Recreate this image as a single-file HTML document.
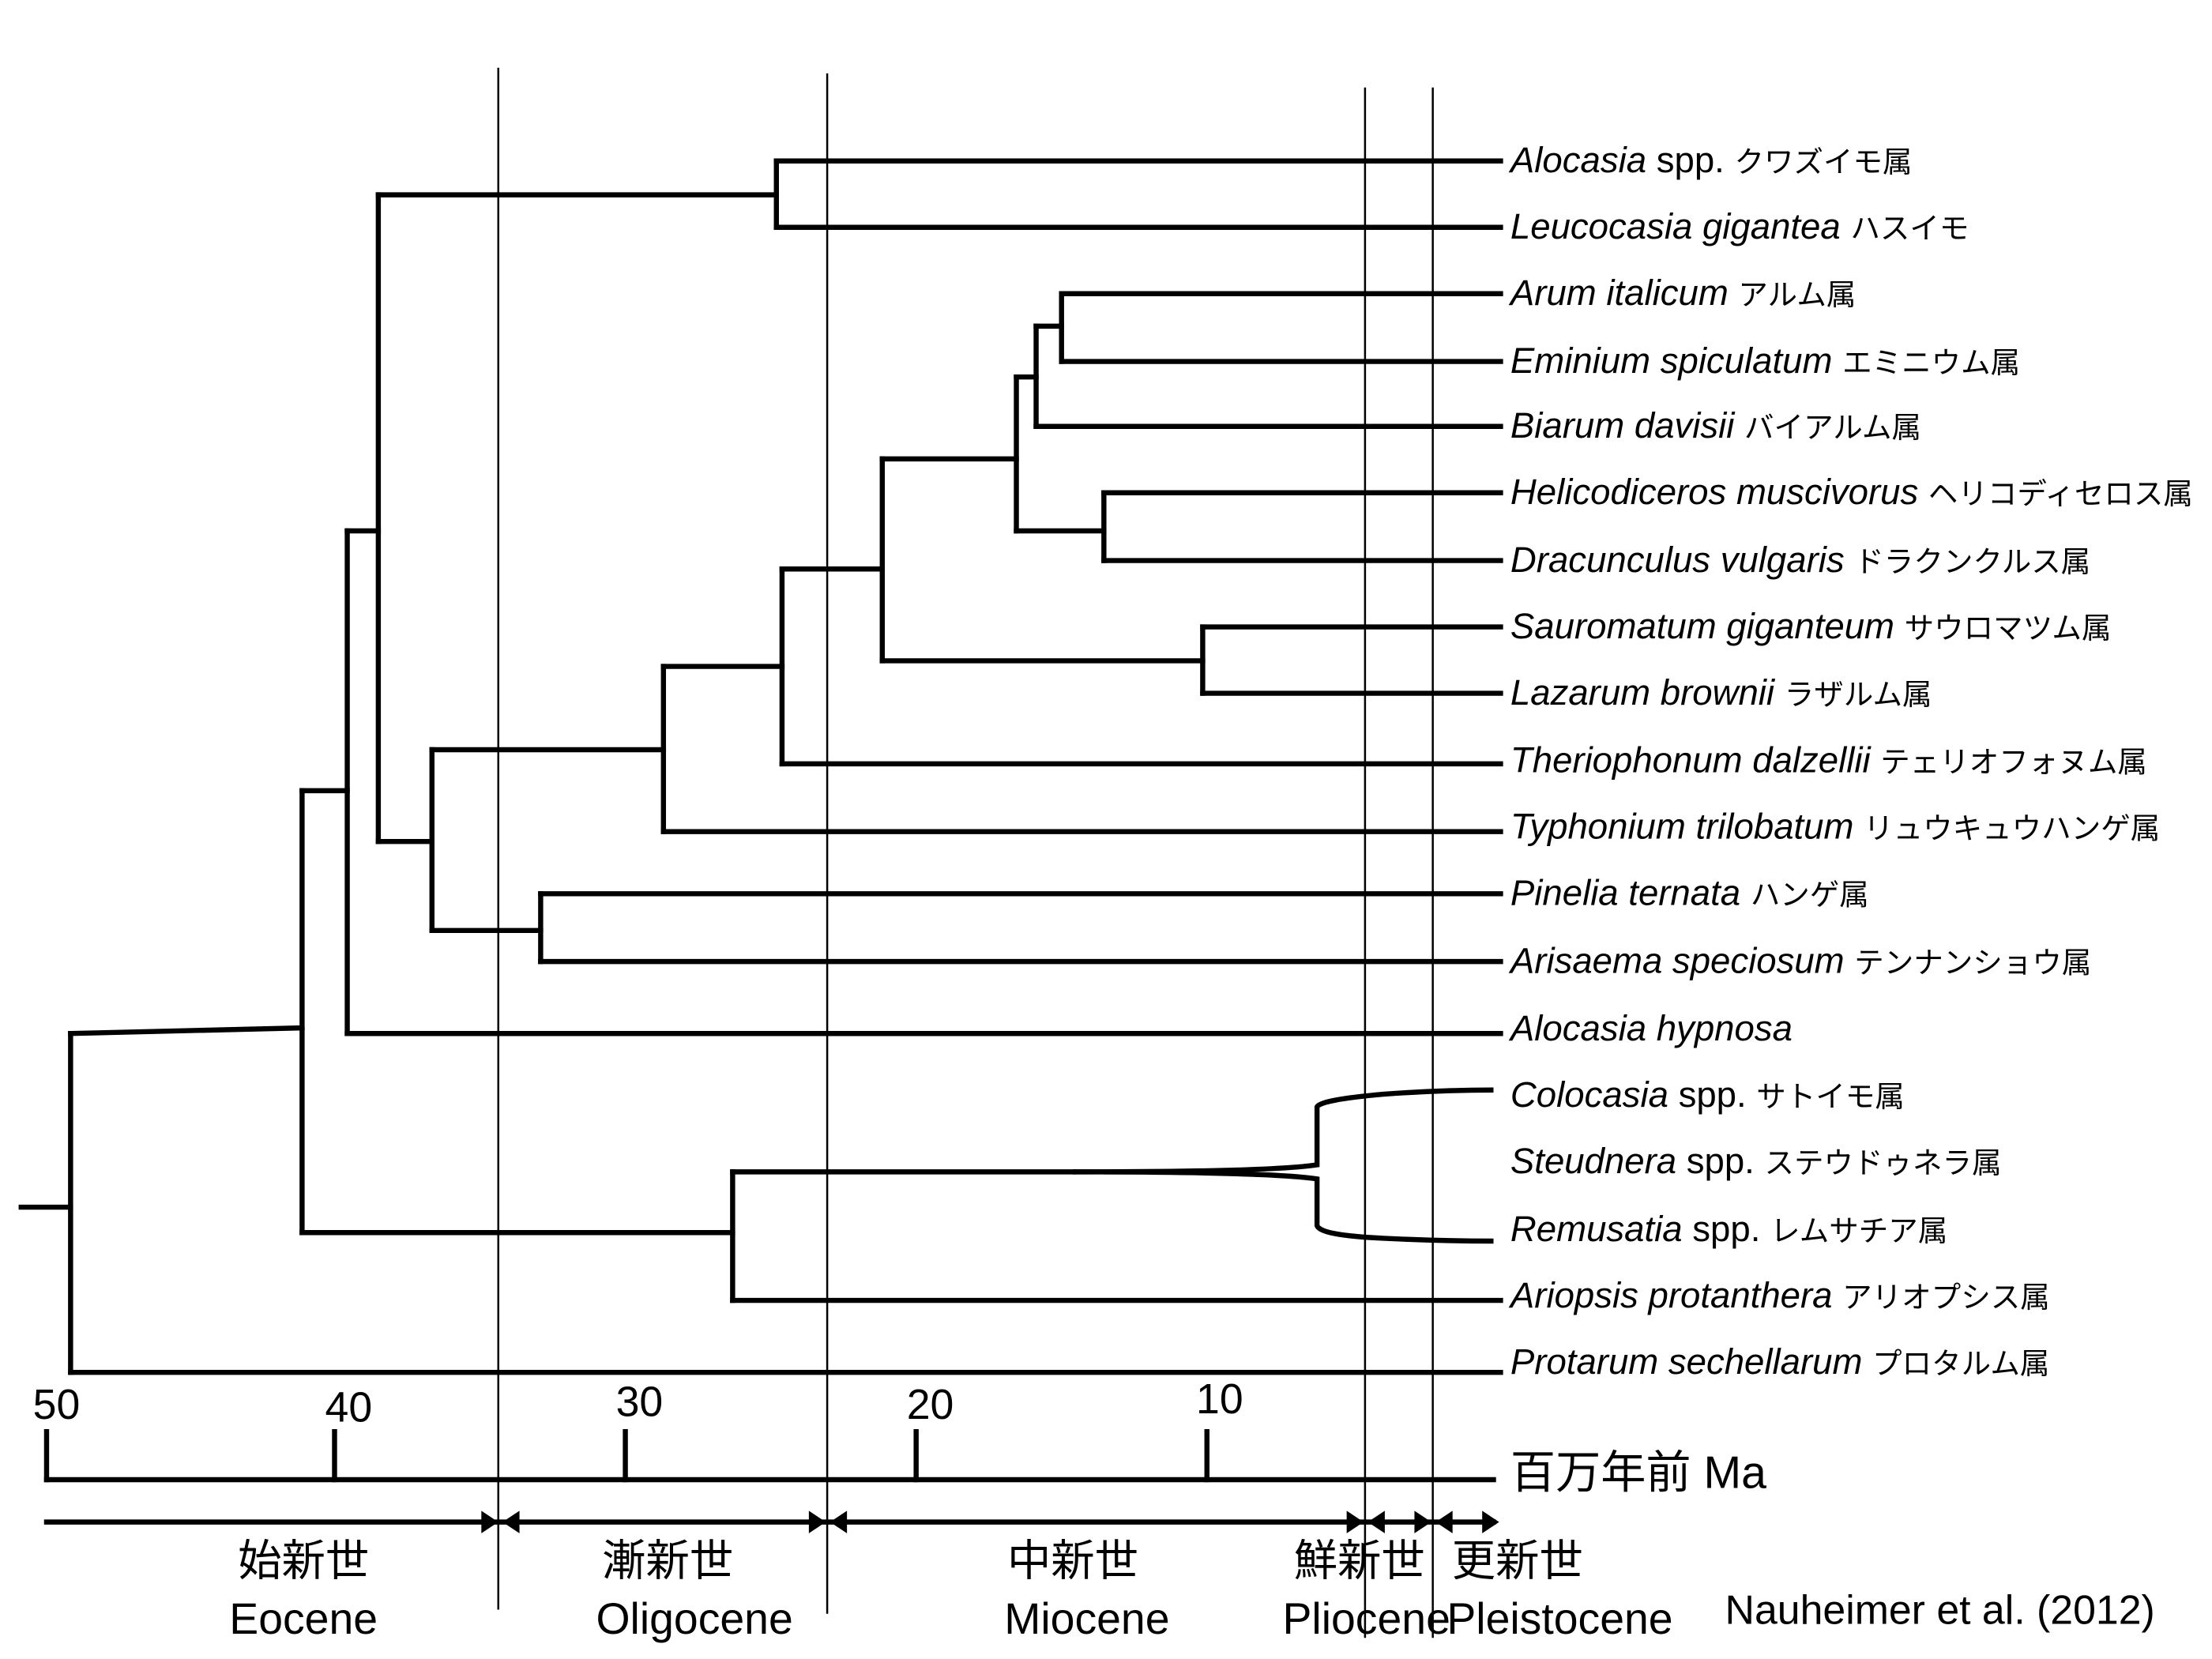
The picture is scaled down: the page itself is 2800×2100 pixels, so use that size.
<!DOCTYPE html>
<html><head><meta charset="utf-8">
<style>
html,body{margin:0;padding:0;background:#fff;}
svg{display:block;}
text{font-family:"Liberation Sans","Noto Sans CJK JP",sans-serif;fill:#000;}
.sp{font-size:25.5px;}
.i{font-style:italic;}
.jp{font-size:21px;}
</style></head><body>
<svg width="2800" height="2100" viewBox="0 0 1567 1175" preserveAspectRatio="none" xmlns="http://www.w3.org/2000/svg">
<g stroke="#000" stroke-width="1.4" fill="none">
<line x1="353" y1="48" x2="353" y2="1140"/>
<line x1="586" y1="52" x2="586" y2="1143"/>
<line x1="967" y1="62" x2="967" y2="1160"/>
<line x1="1015" y1="62" x2="1015" y2="1160"/>
</g>
<g stroke="#000" stroke-width="3.6" fill="none" stroke-linecap="square">
<line x1="15" y1="855" x2="50" y2="855"/>
<line x1="50" y1="732" x2="50" y2="972"/>
<line x1="50" y1="972" x2="1063" y2="972"/>
<line x1="50" y1="732" x2="214" y2="728"/>
<line x1="214" y1="560" x2="214" y2="873"/>
<line x1="214" y1="560" x2="246" y2="560"/>
<line x1="214" y1="873" x2="519" y2="873"/>
<line x1="246" y1="376" x2="246" y2="732"/>
<line x1="246" y1="376" x2="268" y2="376"/>
<line x1="246" y1="732" x2="1063" y2="732"/>
<line x1="268" y1="138" x2="268" y2="596"/>
<line x1="268" y1="138" x2="550" y2="138"/>
<line x1="268" y1="596" x2="306" y2="596"/>
<line x1="550" y1="114" x2="550" y2="161"/>
<line x1="550" y1="114" x2="1063" y2="114"/>
<line x1="550" y1="161" x2="1063" y2="161"/>
<line x1="306" y1="531" x2="306" y2="659"/>
<line x1="306" y1="531" x2="470" y2="531"/>
<line x1="306" y1="659" x2="383" y2="659"/>
<line x1="383" y1="633" x2="383" y2="681"/>
<line x1="383" y1="633" x2="1063" y2="633"/>
<line x1="383" y1="681" x2="1063" y2="681"/>
<line x1="470" y1="472" x2="470" y2="589"/>
<line x1="470" y1="472" x2="554" y2="472"/>
<line x1="470" y1="589" x2="1063" y2="589"/>
<line x1="554" y1="403" x2="554" y2="541"/>
<line x1="554" y1="403" x2="625" y2="403"/>
<line x1="554" y1="541" x2="1063" y2="541"/>
<line x1="625" y1="325" x2="625" y2="468"/>
<line x1="625" y1="325" x2="720" y2="325"/>
<line x1="625" y1="468" x2="852" y2="468"/>
<line x1="852" y1="444" x2="852" y2="491"/>
<line x1="852" y1="444" x2="1063" y2="444"/>
<line x1="852" y1="491" x2="1063" y2="491"/>
<line x1="720" y1="267" x2="720" y2="376"/>
<line x1="720" y1="267" x2="734" y2="267"/>
<line x1="720" y1="376" x2="782" y2="376"/>
<line x1="782" y1="349" x2="782" y2="397"/>
<line x1="782" y1="349" x2="1063" y2="349"/>
<line x1="782" y1="397" x2="1063" y2="397"/>
<line x1="734" y1="231" x2="734" y2="302"/>
<line x1="734" y1="231" x2="752" y2="231"/>
<line x1="734" y1="302" x2="1063" y2="302"/>
<line x1="752" y1="208" x2="752" y2="256"/>
<line x1="752" y1="208" x2="1063" y2="208"/>
<line x1="752" y1="256" x2="1063" y2="256"/>
<line x1="519" y1="830" x2="519" y2="921"/>
<line x1="519" y1="921" x2="1063" y2="921"/>
<line x1="519" y1="830" x2="760" y2="830"/>
<path d="M760 830 Q900 830 933 825 L933 784 Q935 779 980 775 Q1020 772 1058 772" stroke-linecap="butt"/>
<path d="M760 830 Q900 830 933 835 L933 868 Q935 875 980 877 Q1020 879 1058 879" stroke-linecap="butt"/>
<line x1="33" y1="1048" x2="1058" y2="1048"/>
<line x1="33" y1="1014" x2="33" y2="1048"/>
<line x1="237" y1="1014" x2="237" y2="1048"/>
<line x1="443" y1="1014" x2="443" y2="1048"/>
<line x1="649" y1="1014" x2="649" y2="1048"/>
<line x1="855" y1="1014" x2="855" y2="1048"/>
<line x1="33" y1="1078" x2="1058" y2="1078"/>
</g>
<g fill="#000">
<polygon points="353,1078 341,1070 341,1086"/>
<polygon points="356,1078 368,1070 368,1086"/>
<polygon points="585,1078 573,1070 573,1086"/>
<polygon points="588,1078 600,1070 600,1086"/>
<polygon points="966,1078 954,1070 954,1086"/>
<polygon points="969,1078 981,1070 981,1086"/>
<polygon points="1014,1078 1002,1070 1002,1086"/>
<polygon points="1017,1078 1029,1070 1029,1086"/>
<polygon points="1062,1078 1050,1070 1050,1086"/>
</g>
<g font-size="30">
<text x="40" y="1005" text-anchor="middle">50</text>
<text x="247" y="1007" text-anchor="middle">40</text>
<text x="453" y="1003" text-anchor="middle">30</text>
<text x="659" y="1005" text-anchor="middle">20</text>
<text x="864" y="1001" text-anchor="middle">10</text>
</g>
<text x="1070" y="1054" font-size="32">百万年前 Ma</text>
<g font-size="31" text-anchor="middle">
<text x="215" y="1116">始新世</text><text x="215" y="1157">Eocene</text>
<text x="473" y="1116">漸新世</text><text x="492" y="1157">Oligocene</text>
<text x="760" y="1116">中新世</text><text x="770" y="1157">Miocene</text>
<text x="963" y="1116">鮮新世</text><text x="968" y="1157">Pliocene</text>
<text x="1075" y="1116">更新世</text><text x="1105" y="1157">Pleistocene</text>
</g>
<text x="1222" y="1150" font-size="29">Nauheimer et al. (2012)</text>
<g class="sp">
<text x="1070" y="122"><tspan class="i">Alocasia</tspan> spp. <tspan class="jp">クワズイモ属</tspan></text>
<text x="1070" y="169"><tspan class="i">Leucocasia gigantea</tspan> <tspan class="jp">ハスイモ</tspan></text>
<text x="1070" y="216"><tspan class="i">Arum italicum</tspan> <tspan class="jp">アルム属</tspan></text>
<text x="1070" y="264"><tspan class="i">Eminium spiculatum</tspan> <tspan class="jp">エミニウム属</tspan></text>
<text x="1070" y="310"><tspan class="i">Biarum davisii</tspan> <tspan class="jp">バイアルム属</tspan></text>
<text x="1070" y="357"><tspan class="i">Helicodiceros muscivorus</tspan> <tspan class="jp" font-size="17.5">ヘリコディセロス属</tspan></text>
<text x="1070" y="405"><tspan class="i">Dracunculus vulgaris</tspan> <tspan class="jp">ドラクンクルス属</tspan></text>
<text x="1070" y="452"><tspan class="i">Sauromatum giganteum</tspan> <tspan class="jp">サウロマツム属</tspan></text>
<text x="1070" y="499"><tspan class="i">Lazarum brownii</tspan> <tspan class="jp">ラザルム属</tspan></text>
<text x="1070" y="547"><tspan class="i">Theriophonum dalzellii</tspan> <tspan class="jp">テェリオフォヌム属</tspan></text>
<text x="1070" y="594"><tspan class="i">Typhonium trilobatum</tspan> <tspan class="jp" font-size="19">リュウキュウハンゲ属</tspan></text>
<text x="1070" y="641"><tspan class="i">Pinelia ternata</tspan> <tspan class="jp">ハンゲ属</tspan></text>
<text x="1070" y="689"><tspan class="i">Arisaema speciosum</tspan> <tspan class="jp">テンナンショウ属</tspan></text>
<text x="1070" y="737"><tspan class="i">Alocasia hypnosa</tspan></text>
<text x="1070" y="784"><tspan class="i">Colocasia</tspan> spp. <tspan class="jp">サトイモ属</tspan></text>
<text x="1070" y="831"><tspan class="i">Steudnera</tspan> spp. <tspan class="jp">ステウドゥネラ属</tspan></text>
<text x="1070" y="879"><tspan class="i">Remusatia</tspan> spp. <tspan class="jp">レムサチア属</tspan></text>
<text x="1070" y="926"><tspan class="i">Ariopsis protanthera</tspan> <tspan class="jp">アリオプシス属</tspan></text>
<text x="1070" y="973"><tspan class="i">Protarum sechellarum</tspan> <tspan class="jp">プロタルム属</tspan></text>
</g>
</svg>
</body></html>
